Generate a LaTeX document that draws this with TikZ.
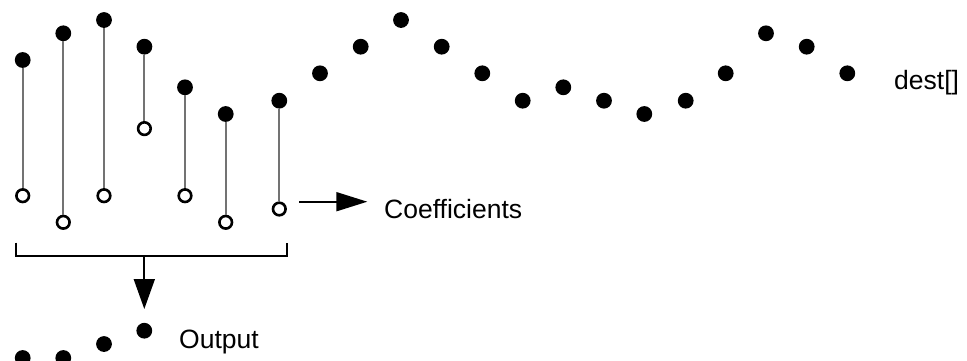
\documentclass[tikz,border=0pt]{standalone}
\usepackage{fontspec}
\setmainfont{Liberation Sans}
\usetikzlibrary{arrows.meta}
\definecolor{stemgray}{RGB}{115,115,115}
\begin{document}
\begin{tikzpicture}[x=1pt,y=-1pt,
  fdot/.style={circle,fill=black,inner sep=0pt,minimum size=15.8pt},
  odot/.style={circle,draw=black,fill=white,line width=2.6pt,inner sep=0pt,minimum size=12.6pt},
  stem/.style={draw=stemgray,line width=1.9pt},
  brk/.style={draw=black,line width=1.8pt},
  lbl/.style={anchor=base west,inner sep=0pt,font=\fontsize{26.5}{30}\selectfont}]
\useasboundingbox (0,0) rectangle (967,360);
% samples with stems
\foreach \i/\x/\ys/\yc in {1/22.7/60/195.7, 2/63.3/33.3/222.3, 3/104/20/195.7, 4/144.4/46.7/128.6,
  5/185/87.3/195.7, 6/225.7/114/222.3, 7/279.3/100.7/209}{
  \node[odot] (c\i) at (\x,\yc) {};
  \node[fdot] (s\i) at (\x,\ys) {};
  \draw[stem] (s\i) -- (c\i);
}
% remaining dest samples
\foreach \i/\x/\y in {8/320/73.3, 9/360.7/46.7, 10/401/20, 11/441.7/46.7, 12/482.3/73.3,
  13/522.7/100.7, 14/563.3/87.3, 15/604/100.7, 16/644.3/114, 17/685.7/100.7,
  18/725.7/73.3, 19/766/33.3, 20/806.7/46.7, 21/847.3/73.3}{
  \node[fdot] (s\i) at (\x,\y) {};
}
\node[lbl] (dest) at (894,89.3) {dest[]};
% coefficients arrow
\node[lbl] (coef) at (384,218.3) {Coefficients};
\coordinate (a1) at (299.3,201.7);
\coordinate (a2) at (367.3,201.7);
\draw[brk,-{Triangle[length=31pt,width=19pt]}] (a1) -- (a2);
% bracket
\coordinate (b1) at (15.7,242.7);
\coordinate (b2) at (15.7,256);
\coordinate (b3) at (286.7,256);
\coordinate (b4) at (286.7,242.7);
\coordinate (bm) at (144.3,256);
\coordinate (bt) at (144.3,309);
\draw[brk] (b1) -- (b2) -- (b3) -- (b4);
\draw[brk,-{Triangle[length=30pt,width=21pt]}] (bm) -- (bt);
% output
\node[fdot] (o1) at (22.7,358) {};
\node[fdot] (o2) at (63.3,358) {};
\node[fdot] (o3) at (104,344) {};
\node[fdot] (o4) at (144.3,330.7) {};
\node[lbl] (out) at (179,348.3) {Output};
\end{tikzpicture}
\end{document}
